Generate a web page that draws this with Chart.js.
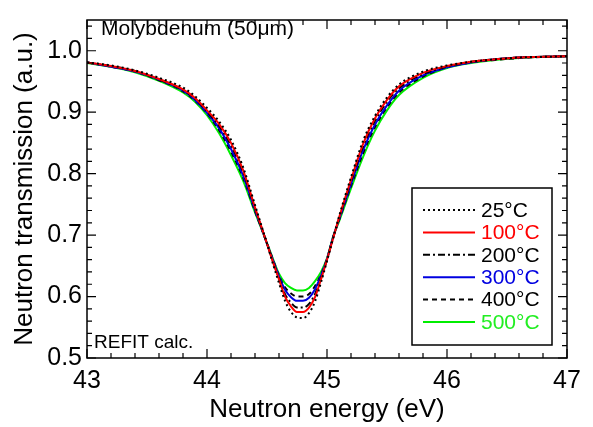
<!DOCTYPE html>
<html lang="en-US">
<head>
  <meta charset="utf-8">
  <title>Molybdenum neutron transmission</title>
  <script src="https://cdn.jsdelivr.net/npm/chart.js@4/dist/chart.umd.min.js"></script>
  <style>
    html, body { margin: 0; padding: 0; background: #fff; }
    #holder { width: 593px; height: 427px; }
  </style>
</head>
<body>
  <div id="holder"><canvas id="chart"></canvas></div>
<script>
  // energies (eV)
  var energy = [43.0, 43.2, 43.4, 43.6, 43.8, 43.9, 44.0, 44.1, 44.2, 44.3, 44.4, 44.5, 44.55, 44.6, 44.65, 44.7, 44.75, 44.8,
    44.85, 44.9, 44.95, 45.0, 45.05, 45.1, 45.2, 45.3, 45.4, 45.5, 45.6, 45.8, 46.0, 46.2, 46.4, 46.6, 46.8, 47.0];

  var t25 = [0.981, 0.976, 0.968, 0.956, 0.940, 0.926, 0.907, 0.885, 0.855, 0.811, 0.749, 0.686, 0.653, 0.622, 0.593, 0.575, 0.566, 0.565,
    0.573, 0.592, 0.623, 0.658, 0.694, 0.730, 0.794, 0.853, 0.894, 0.924, 0.945, 0.966, 0.976, 0.982, 0.986, 0.989, 0.990, 0.991];
  var t100 = [0.981, 0.975, 0.967, 0.954, 0.937, 0.923, 0.903, 0.881, 0.850, 0.806, 0.745, 0.686, 0.656, 0.628, 0.600, 0.584, 0.575, 0.575,
    0.582, 0.599, 0.628, 0.660, 0.694, 0.728, 0.790, 0.848, 0.890, 0.920, 0.942, 0.964, 0.975, 0.982, 0.986, 0.989, 0.990, 0.991];
  var t200 = [0.981, 0.975, 0.967, 0.953, 0.936, 0.922, 0.901, 0.878, 0.846, 0.803, 0.743, 0.686, 0.657, 0.630, 0.604, 0.590, 0.582, 0.582,
    0.588, 0.604, 0.630, 0.660, 0.695, 0.727, 0.787, 0.844, 0.886, 0.917, 0.939, 0.962, 0.974, 0.982, 0.986, 0.989, 0.990, 0.991];
  var t300 = [0.981, 0.974, 0.966, 0.953, 0.935, 0.920, 0.899, 0.874, 0.840, 0.797, 0.741, 0.686, 0.659, 0.633, 0.611, 0.599, 0.593, 0.593,
    0.598, 0.612, 0.634, 0.661, 0.696, 0.725, 0.783, 0.838, 0.880, 0.911, 0.935, 0.960, 0.973, 0.981, 0.986, 0.989, 0.990, 0.991];
  var t400 = [0.981, 0.974, 0.966, 0.952, 0.934, 0.919, 0.898, 0.871, 0.836, 0.794, 0.739, 0.687, 0.660, 0.634, 0.615, 0.605, 0.600, 0.600,
    0.604, 0.617, 0.636, 0.661, 0.696, 0.724, 0.780, 0.833, 0.876, 0.908, 0.932, 0.958, 0.973, 0.981, 0.985, 0.988, 0.990, 0.991];
  var t500 = [0.980, 0.974, 0.965, 0.951, 0.932, 0.917, 0.895, 0.866, 0.830, 0.789, 0.737, 0.687, 0.661, 0.637, 0.622, 0.614, 0.610, 0.610,
    0.614, 0.625, 0.640, 0.662, 0.697, 0.722, 0.776, 0.827, 0.870, 0.903, 0.928, 0.956, 0.972, 0.980, 0.985, 0.988, 0.990, 0.991];

  var seriesLabels = ['25°C', '100°C', '200°C', '300°C', '400°C', '500°C'];
  var seriesValues = [t25, t100, t200, t300, t400, t500];
  var seriesColors = ['#000000', '#ff0000', '#000000', '#0000e0', '#000000', '#00ee00'];
  var seriesTextColors = ['#000000', '#ff0000', '#000000', '#0000e0', '#000000', '#22ee22'];
  var seriesDash = [[2, 3], [], [7, 3, 2, 3], [], [5, 4], []];

  var xTicks = [43, 44, 45, 46, 47];
  var yTicks = [0.5, 0.6, 0.7, 0.8, 0.9, 1.0];

  var FONT = "'Liberation Sans', Arial, sans-serif";

  var datasets = seriesValues.map(function (vals, k) {
    return {
      label: seriesLabels[k],
      data: energy.map(function (e, i) { return { x: e, y: vals[i] }; }),
      borderColor: seriesColors[k],
      borderDash: seriesDash[k],
      borderWidth: 2,
      pointRadius: 0,
      fill: false,
      cubicInterpolationMode: 'monotone'
    };
  });

  // frame, inward ticks on all four sides, legend box and annotations
  var framePlugin = {
    id: 'frame',
    afterDraw: function (chart) {
      var ctx = chart.ctx;
      var a = chart.chartArea;
      var xs = chart.scales.x, ys = chart.scales.y;
      ctx.save();
      ctx.strokeStyle = '#000';
      ctx.lineWidth = 1.5;
      ctx.strokeRect(a.left, a.top, a.right - a.left, a.bottom - a.top);

      ctx.lineWidth = 1.2;
      ctx.beginPath();
      for (var v = 43; v <= 47.0001; v += 0.2) {
        var px = xs.getPixelForValue(v);
        var major = Math.abs(v - Math.round(v)) < 1e-6;
        var len = major ? 9 : 5;
        ctx.moveTo(px, a.bottom); ctx.lineTo(px, a.bottom - len);
        ctx.moveTo(px, a.top); ctx.lineTo(px, a.top + len);
      }
      for (var w = 0.5; w <= 1.05; w += 0.02) {
        var py = ys.getPixelForValue(w);
        var m = Math.abs(w * 10 - Math.round(w * 10)) < 1e-6;
        var l = m ? 9 : 5;
        ctx.moveTo(a.left, py); ctx.lineTo(a.left + l, py);
        ctx.moveTo(a.right, py); ctx.lineTo(a.right - l, py);
      }
      ctx.stroke();

      // legend
      var bx = 412, by = 188, bw = 140, bh = 157;
      ctx.fillStyle = '#fff';
      ctx.fillRect(bx, by, bw, bh);
      ctx.lineWidth = 1.5;
      ctx.strokeRect(bx, by, bw, bh);
      ctx.font = '21px ' + FONT;
      ctx.textBaseline = 'middle';
      ctx.textAlign = 'left';
      for (var k = 0; k < seriesLabels.length; k++) {
        var ry = 210 + k * 22.4;
        ctx.strokeStyle = seriesColors[k];
        ctx.lineWidth = 2;
        ctx.setLineDash(seriesDash[k]);
        ctx.beginPath();
        ctx.moveTo(423, ry); ctx.lineTo(475, ry);
        ctx.stroke();
        ctx.setLineDash([]);
        ctx.fillStyle = seriesTextColors[k];
        ctx.fillText(seriesLabels[k], 481, ry + 1);
      }

      ctx.fillStyle = '#000';
      ctx.font = '21px ' + FONT;
      ctx.fillText('Molybdenum (50\u03bcm)', 101, 29);
      ctx.font = '19px ' + FONT;
      ctx.fillText('REFIT calc.', 94, 343);
      ctx.restore();
    }
  };

  var config = {
    type: 'line',
    data: { datasets: datasets },
    options: {
      responsive: false,
      animation: false,
      layout: { padding: { left: 0, right: 26, top: 8, bottom: 0 } },
      plugins: { legend: { display: false }, tooltip: { enabled: false } },
      scales: {
        x: {
          type: 'linear',
          min: 43, max: 47,
          afterBuildTicks: function (s) { s.ticks = xTicks.map(function (v) { return { value: v }; }); },
          afterFit: function (s) { s.height = 69; },
          grid: { display: false, drawTicks: false },
          border: { display: false },
          ticks: { color: '#000', padding: 8, maxRotation: 0, font: { family: FONT, size: 25 } },
          title: { display: true, text: 'Neutron energy (eV)', color: '#000', padding: { top: 0, bottom: 2 }, font: { family: FONT, size: 26 } }
        },
        y: {
          type: 'linear',
          min: 0.5, max: 1.05,
          afterBuildTicks: function (s) { s.ticks = yTicks.map(function (v) { return { value: v }; }); },
          afterFit: function (s) { s.width = 87; },
          grid: { display: false, drawTicks: false },
          border: { display: false },
          ticks: { color: '#000', padding: 5, font: { family: FONT, size: 25 },
            callback: function (v) { return v.toFixed(1); } },
          title: { display: true, text: 'Neutron transmission (a.u.)', color: '#000', padding: { top: 9, bottom: 0 }, font: { family: FONT, size: 26 } }
        }
      }
    },
    plugins: [framePlugin]
  };

  var canvas = document.getElementById('chart');
  canvas.width = 593; canvas.height = 427;
  window.myChart = new Chart(canvas.getContext('2d'), config);
</script>
</body>
</html>
